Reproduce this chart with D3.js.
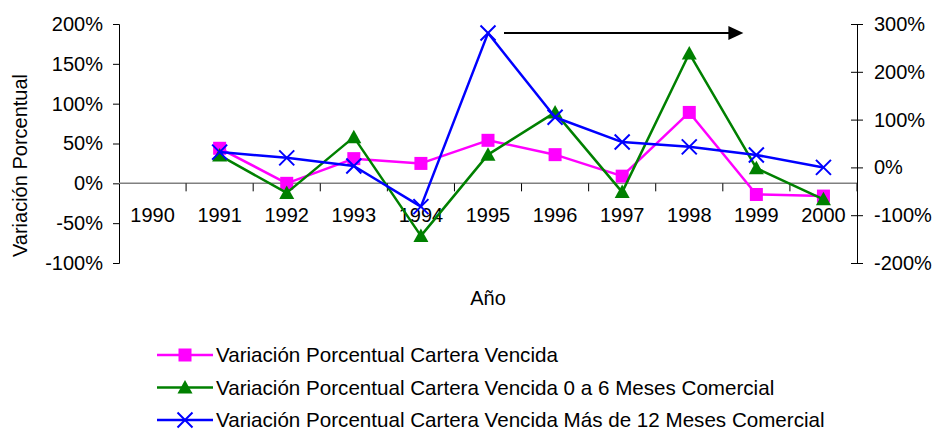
<!DOCTYPE html>
<html>
<head>
<meta charset="utf-8">
<script src="https://cdn.jsdelivr.net/npm/d3@7"></script>
<style>
  html, body { margin: 0; padding: 0; background: #fff; }
  svg { display: block; font-family: "Liberation Sans", Arial, sans-serif; }
</style>
</head>
<body>
<svg id="chart" width="937" height="433"></svg>
<script>
  const years = ["1990", "1991", "1992", "1993", "1994", "1995", "1996", "1997", "1998", "1999", "2000"];

  // left axis series
  const carteraVencida = [null, 0.44, 0.00, 0.31, 0.25, 0.54, 0.36, 0.09, 0.89, -0.14, -0.16];
  const vencida0a6 = [null, 0.35, -0.12, 0.58, -0.66, 0.36, 0.89, -0.11, 1.63, 0.19, -0.20];
  // right axis series
  const vencidaMas12 = [null, 0.32, 0.20, 0.03, -0.82, 2.81, 1.05, 0.53, 0.43, 0.26, 0.00];

  const leftTicks = [-1, -0.5, 0, 0.5, 1, 1.5, 2];
  const rightTicks = [-2, -1, 0, 1, 2, 3];

  const legendLabels = [
    "Variación Porcentual Cartera Vencida",
    "Variación Porcentual Cartera Vencida 0 a 6 Meses Comercial",
    "Variación Porcentual Cartera Vencida Más de 12 Meses Comercial"
  ];

  const svg = d3.select("#chart");
  const plot = { left: 119, right: 857, top: 24, bottom: 263 };

  const x = d3.scaleBand().domain(years).range([plot.left, plot.right]);
  const yL = d3.scaleLinear().domain([-1, 2]).range([plot.bottom, plot.top]);
  const yR = d3.scaleLinear().domain([-2, 3]).range([plot.bottom, plot.top]);
  const cx = (yr) => x(yr) + x.bandwidth() / 2;
  // plain hyphen like the original, not the unicode minus
  const pct = (v) => d3.format(".0%")(v).replace("\u2212", "-");

  // left axis
  const gL = svg.append("g")
    .attr("transform", `translate(${plot.left},0)`)
    .call(d3.axisLeft(yL).tickValues(leftTicks).tickFormat(pct).tickSizeOuter(0).tickSize(6).tickPadding(10));
  gL.select(".domain").attr("stroke", "#000");
  gL.selectAll("text").attr("font-size", 20).attr("fill", "#000").attr("font-family", null);

  // right axis (ticks cross the line)
  const gR = svg.append("g")
    .attr("transform", `translate(${plot.right},0)`)
    .call(d3.axisRight(yR).tickValues(rightTicks).tickFormat(pct).tickSizeOuter(0).tickSize(6).tickPadding(11));
  gR.selectAll(".tick line").attr("x1", -6);
  gR.selectAll("text").attr("font-size", 20).attr("fill", "#000").attr("font-family", null);

  // category axis at 0% of the left scale
  const y0 = yL(0);
  const gX = svg.append("g");
  gX.append("line")
    .attr("x1", plot.left).attr("x2", plot.right)
    .attr("y1", y0).attr("y2", y0)
    .attr("stroke", "#808080").attr("stroke-width", 1.5);
  gX.selectAll("line.tick")
    .data(years.slice(1).concat(["end"]))
    .join("line")
    .attr("class", "tick")
    .attr("x1", (d) => d === "end" ? plot.right : x(d))
    .attr("x2", (d) => d === "end" ? plot.right : x(d))
    .attr("y1", y0).attr("y2", y0 + 8)
    .attr("stroke", "#000");
  gX.selectAll("text")
    .data(years)
    .join("text")
    .attr("x", (d) => cx(d))
    .attr("y", y0 + 39)
    .attr("text-anchor", "middle")
    .attr("font-size", 20)
    .text((d) => d);

  // axis titles
  svg.append("text")
    .attr("transform", `translate(27,${(plot.top + plot.bottom) / 2 + 22}) rotate(-90)`)
    .attr("text-anchor", "middle")
    .attr("font-size", 20)
    .text("Variación Porcentual");
  svg.append("text")
    .attr("x", (plot.left + plot.right) / 2)
    .attr("y", 305)
    .attr("text-anchor", "middle")
    .attr("font-size", 20)
    .text("Año");

  const series = [
    { values: carteraVencida, y: yL, color: "#FF00FF", marker: "square" },
    { values: vencida0a6, y: yL, color: "#008000", marker: "triangle" },
    { values: vencidaMas12, y: yR, color: "#0000FF", marker: "cross" }
  ];

  function drawMarker(g, type, color) {
    if (type === "square") {
      g.append("rect").attr("x", -6.5).attr("y", -6.5).attr("width", 13).attr("height", 13).attr("fill", color);
    } else if (type === "triangle") {
      g.append("path").attr("d", "M0,-7.5L7.5,6L-7.5,6Z").attr("fill", color);
    } else {
      g.append("path").attr("d", "M-7.5,-7.5L7.5,7.5M-7.5,7.5L7.5,-7.5")
        .attr("stroke", color).attr("stroke-width", 2).attr("fill", "none");
    }
  }

  series.forEach((s) => {
    const pts = years.map((yr, i) => ({ yr, v: s.values[i] })).filter((p) => p.v !== null);
    svg.append("path")
      .datum(pts)
      .attr("fill", "none")
      .attr("stroke", s.color)
      .attr("stroke-width", 2.5)
      .attr("stroke-linejoin", "round")
      .attr("d", d3.line().x((p) => cx(p.yr)).y((p) => s.y(p.v)));
    svg.append("g")
      .selectAll("g")
      .data(pts)
      .join("g")
      .attr("transform", (p) => `translate(${cx(p.yr)},${s.y(p.v)})`)
      .each(function () { drawMarker(d3.select(this), s.marker, s.color); });
  });

  // arrow pointing from the 1995 peak toward the right axis
  const arrowY = yR(vencidaMas12[5]);
  const ax1 = cx("1995") + 16, ax2 = cx("1999") - 13;
  svg.append("line")
    .attr("x1", ax1).attr("x2", ax2 - 12)
    .attr("y1", arrowY).attr("y2", arrowY)
    .attr("stroke", "#000").attr("stroke-width", 2);
  svg.append("path")
    .attr("d", `M${ax2},${arrowY}L${ax2 - 15},${arrowY - 7}L${ax2 - 15},${arrowY + 7}Z`)
    .attr("fill", "#000");

  // legend
  const leg = svg.append("g").attr("transform", "translate(157,355)");
  series.forEach((s, i) => {
    const row = leg.append("g").attr("transform", `translate(0,${i * 32.5})`);
    row.append("line").attr("x1", 0).attr("x2", 56).attr("stroke", s.color).attr("stroke-width", 2.5);
    drawMarker(row.append("g").attr("transform", "translate(28,0)"), s.marker, s.color);
    row.append("text")
      .attr("x", 59)
      .attr("dy", "0.35em")
      .attr("font-size", 20.6)
      .text(legendLabels[i]);
  });
</script>
</body>
</html>
